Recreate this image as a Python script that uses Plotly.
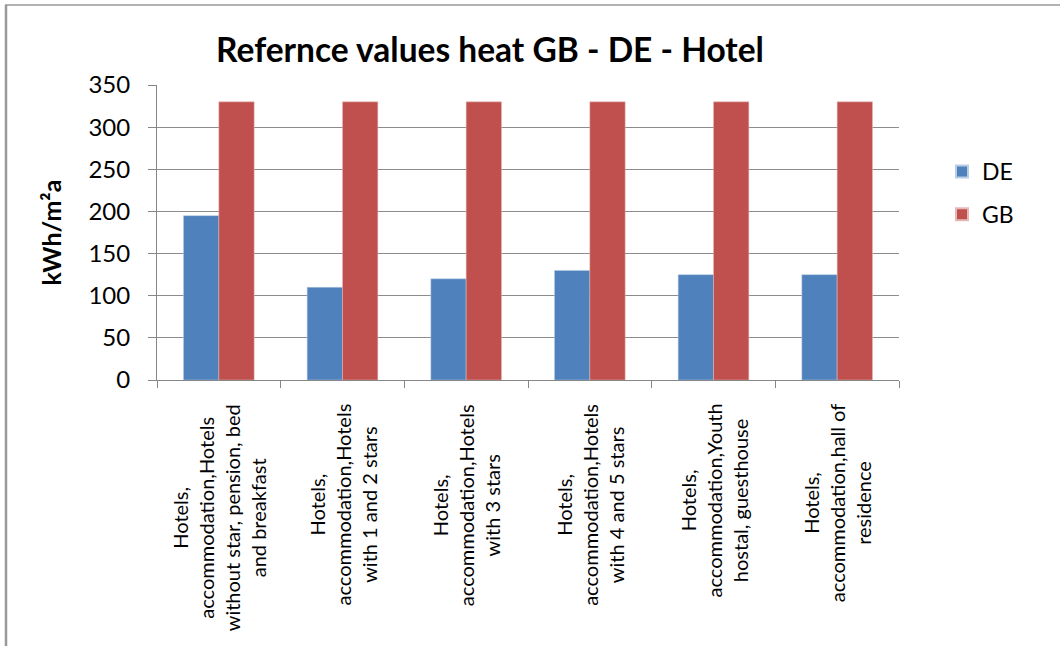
import plotly.graph_objects as go

categories = [
    "Hotels,<br>accommodation,Hotels<br>without star, pension, bed<br>and breakfast",
    "Hotels,<br>accommodation,Hotels<br>with 1 and 2 stars",
    "Hotels,<br>accommodation,Hotels<br>with 3 stars",
    "Hotels,<br>accommodation,Hotels<br>with 4 and 5 stars",
    "Hotels,<br>accommodation,Youth<br>hostal, guesthouse",
    "Hotels,<br>accommodation,hall of<br>residence",
]
de_values = [195, 110, 120, 130, 125, 125]
gb_values = [330, 330, 330, 330, 330, 330]
y_ticks = [0, 50, 100, 150, 200, 250, 300, 350]

FONT = "Lato"
x_idx = list(range(len(categories)))

fig = go.Figure()
fig.add_trace(go.Bar(name="DE", x=x_idx, y=de_values, legendgroup="DE",
                     marker=dict(color="#4F81BD", line=dict(color="#B9CDE5", width=0.5))))
fig.add_trace(go.Bar(name="GB", x=x_idx, y=gb_values, legendgroup="GB",
                     marker=dict(color="#C0504D", line=dict(color="#E6B9B8", width=0.5))))

L, R, T, B = 157, 161, 85, 266
W, H = 1060, 646
pw = W - L - R
ph = H - T - B

fig.update_layout(
    width=W, height=H,
    margin=dict(l=L, r=R, t=T, b=B, pad=0),
    paper_bgcolor="white", plot_bgcolor="white",
    barmode="group", bargap=0.4286, bargroupgap=0,
    font=dict(family=FONT, color="black"),
    title=dict(text="<b>Refernce values heat GB - DE - Hotel</b>", x=490 / W, xanchor="center",
               y=1 - 50 / H, yanchor="middle", font=dict(size=33.5, family=FONT, color="black")),
    showlegend=True,
    legend=dict(x=(942 - L) / pw, xanchor="left", y=1 - (150 - T) / ph, yanchor="top",
                font=dict(size=23, family=FONT, color="black"), tracegroupgap=10,
                traceorder="grouped", itemsizing="constant", bgcolor="rgba(0,0,0,0)"),
    xaxis=dict(range=[-0.5, len(categories) - 0.5], tickmode="array",
               tickvals=[i - 0.5 for i in range(len(categories) + 1)], ticktext=[""] * (len(categories) + 1),
               ticks="outside", ticklen=7, tickcolor="#868686", showline=True, linecolor="#868686",
               linewidth=1, showgrid=False, zeroline=False),
    yaxis=dict(range=[0, 350], tickmode="array", tickvals=y_ticks, ticks="outside", ticklen=8,
               tickcolor="#868686", showline=True, linecolor="#868686", linewidth=1,
               showgrid=True, gridcolor="#8C8C8C", gridwidth=1, zeroline=False,
               ticklabelstandoff=13,
               tickfont=dict(size=24, family=FONT, color="black"),
               title=dict(text="<b>kWh/m²a</b>", font=dict(size=25, family=FONT, color="black"), standoff=19)),
)

for i, cat in enumerate(categories):
    fig.add_annotation(x=i, y=1 - (402 - T) / ph, xref="x", yref="paper", text=cat, textangle=-90,
                       showarrow=False, xanchor="center", yanchor="top", align="center",
                       font=dict(size=20, family=FONT, color="black"))

# outer chart border (left and top visible)
fig.add_shape(type="line", xref="paper", yref="paper", x0=(6 - L) / pw, x1=(6 - L) / pw,
              y0=1 + (T - 5) / ph, y1=-(B + 5) / ph, line=dict(color="#999999", width=2.5))
fig.add_shape(type="line", xref="paper", yref="paper", x0=(5 - L) / pw, x1=(W + 5 - L) / pw,
              y0=1 + (T - 5) / ph, y1=1 + (T - 5) / ph, line=dict(color="#999999", width=1.5))

fig.write_html("out.html", config={"displayModeBar": False},
               post_script="document.body.style.margin='0';")
